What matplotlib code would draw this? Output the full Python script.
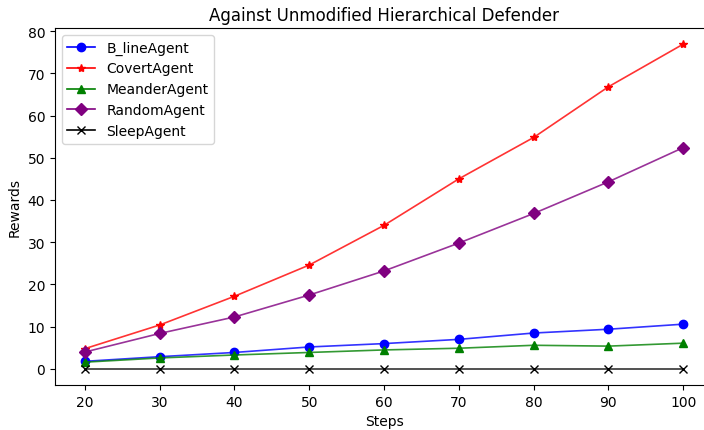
import numpy as np
import matplotlib
matplotlib.use("Agg")
import matplotlib.pyplot as plt

steps = [20, 30, 40, 50, 60, 70, 80, 90, 100]
bline = [1.8, 2.9, 3.9, 5.2, 6.0, 7.0, 8.5, 9.4, 10.6]
covert = [4.8, 10.4, 17.2, 24.6, 34.0, 45.0, 54.8, 66.8, 76.9]
meander = [1.6, 2.6, 3.3, 3.9, 4.5, 4.9, 5.6, 5.4, 6.1]
random_ = [4.0, 8.4, 12.3, 17.5, 23.2, 29.8, 36.8, 44.3, 52.4]
sleep = [0, 0, 0, 0, 0, 0, 0, 0, 0]

series = [("B_lineAgent", bline, "blue", "o", 6),
          ("CovertAgent", covert, "red", "*", 6),
          ("MeanderAgent", meander, "green", "^", 6),
          ("RandomAgent", random_, "purple", "D", 6),
          ("SleepAgent", sleep, "black", "x", 6)]

fig, ax = plt.subplots(figsize=(7.04, 4.31), dpi=100)
for name, y, c, m, ms in series:
    ax.plot(steps, y, color=c, alpha=0.8, lw=1.2)
    ax.plot(steps, y, color=c, marker=m, ms=ms, ls="none")
handles = [plt.Line2D([], [], color=c, marker=m, ms=ms, lw=1.2) for _, _, c, m, ms in series]
ax.legend(handles, [s[0] for s in series], loc="upper left")
ax.set_xticks(steps)
ax.set_yticks(range(0, 90, 10))
ax.set_xlabel("Steps")
ax.set_ylabel("Rewards")
ax.set_title("Against Unmodified Hierarchical Defender")
# the reference is cut off on the right, so the axes run past the edge
fig.subplots_adjust(left=0.078, right=1.013, top=0.933, bottom=0.104)
fig.savefig("out.png", dpi=100)
